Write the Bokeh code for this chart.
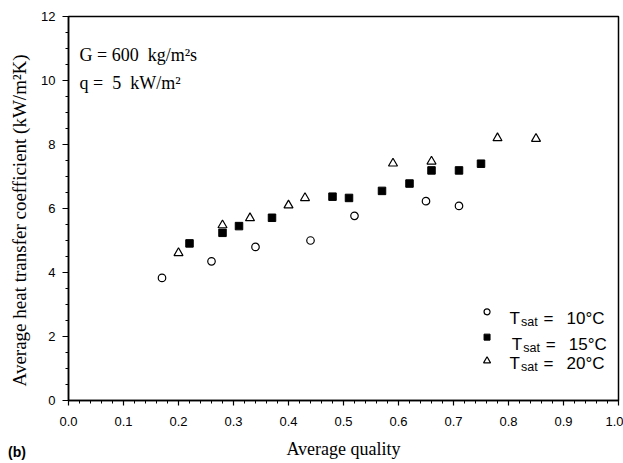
from bokeh.plotting import figure
from bokeh.models import Range1d, FixedTicker, Label
from bokeh.embed import file_html
from bokeh.resources import INLINE

# ---- data ----
x_10 = [0.17, 0.26, 0.34, 0.44, 0.52, 0.65, 0.71]
h_10 = [3.83, 4.35, 4.80, 5.00, 5.77, 6.23, 6.08]

x_15 = [0.22, 0.28, 0.31, 0.37, 0.48, 0.51, 0.57, 0.62, 0.66, 0.71, 0.75]
h_15 = [4.91, 5.24, 5.45, 5.71, 6.37, 6.33, 6.55, 6.78, 7.19, 7.19, 7.40]

x_20 = [0.20, 0.28, 0.33, 0.40, 0.43, 0.59, 0.66, 0.78, 0.85]
h_20 = [4.61, 5.48, 5.70, 6.10, 6.33, 7.41, 7.47, 8.20, 8.18]

x_ticks = [0.0, 0.1, 0.2, 0.3, 0.4, 0.5, 0.6, 0.7, 0.8, 0.9, 1.0]
x_tick_labels = ["0.0", "0.1", "0.2", "0.3", "0.4", "0.5", "0.6", "0.7", "0.8", "0.9", "1.0"]
y_ticks = [0, 2, 4, 6, 8, 10, 12]
y_tick_labels = ["0", "2", "4", "6", "8", "10", "12"]

legend_temps = ["10°C", "15°C", "20°C"]

SERIF = "Liberation Serif"
SANS = "Liberation Sans"
NB = "\u00a0"

p = figure(width=623, height=463, output_backend="svg", toolbar_location=None,
           x_range=Range1d(0, 1), y_range=Range1d(0, 12),
           min_border_left=68, min_border_right=5, min_border_top=15, min_border_bottom=63)
p.background_fill_color = "white"
p.border_fill_color = "white"
p.grid.visible = False
p.outline_line_color = "black"
p.outline_line_width = 1.5
p.outline_line_alpha = 1.0

# axes
x_minor = [round(i * 0.02, 2) for i in range(51)]
y_minor = [i * 0.5 for i in range(25)]
p.xaxis.ticker = FixedTicker(ticks=x_ticks, minor_ticks=x_minor)
p.yaxis.ticker = FixedTicker(ticks=y_ticks, minor_ticks=y_minor)
p.xaxis.major_label_overrides = {t: l for t, l in zip(x_ticks, x_tick_labels)}
p.yaxis.major_label_overrides = {t: l for t, l in zip(y_ticks, y_tick_labels)}
for ax in (p.xaxis[0], p.yaxis[0]):
    ax.axis_line_color = "black"
    ax.axis_line_width = 1.5
    ax.major_tick_line_color = "black"
    ax.minor_tick_line_color = "black"
    ax.major_tick_line_width = 1.2
    ax.minor_tick_line_width = 1
    ax.major_tick_in = 0
    ax.minor_tick_in = 0
    ax.major_label_text_font = SANS
    ax.major_label_text_font_size = "13px"
    ax.major_label_text_color = "black"
    ax.axis_label_text_font = SERIF
    ax.axis_label_text_font_style = "normal"
    ax.axis_label_text_color = "black"
p.xaxis.major_tick_out = 5
p.xaxis.minor_tick_out = 3
p.yaxis.major_tick_out = 6
p.yaxis.minor_tick_out = 3
p.xaxis.major_label_standoff = 11
p.yaxis.major_label_standoff = 7

p.xaxis.axis_label = "Average quality"
p.xaxis.axis_label_text_font_size = "18px"
p.xaxis.axis_label_standoff = 10
p.yaxis.axis_label = "Average heat transfer coefficient (kW/m²K)" + NB * 5
p.yaxis.axis_label_text_font_size = "19px"
p.yaxis.axis_label_standoff = 8

# data markers
p.scatter(x_10, h_10, marker="circle", size=7.5, fill_color="white",
          line_color="black", line_width=1.2)
p.scatter(x_15, h_15, marker="square", size=7.5, fill_color="black",
          line_color="black", line_width=1)
p.scatter(x_20, h_20, marker="triangle", size=9, fill_color="white",
          line_color="black", line_width=1.2)

# panel tag "(b)" (in a side panel so it is not clipped to the frame)
p.add_layout(Label(x=-0.11, y=-1.6, text="(b)", text_align="left", text_baseline="middle",
                   text_font=SANS, text_font_style="bold", text_font_size="14px",
                   text_color="black"), "above")

# conditions
p.add_layout(Label(x=0.02, y=10.81, text="G = 600" + NB * 2 + "kg/m²s",
                   text_baseline="alphabetic",
                   text_font=SERIF, text_font_size="18px", text_color="black"))
p.add_layout(Label(x=0.02, y=9.91, text="q =" + NB * 2 + "5" + NB * 2 + "kW/m²",
                   text_baseline="alphabetic",
                   text_font=SERIF, text_font_size="18px", text_color="black"))

# legend (manual, for subscript)
leg_marker_x = 0.761
leg_marker_y = [2.77, 1.98, 1.24]
leg_text_x = [0.802, 0.806, 0.802]
leg_text_y = [2.556, 1.758, 1.153]
p.scatter([leg_marker_x], [leg_marker_y[0]], marker="circle", size=6, fill_color="white",
          line_color="black", line_width=1.2)
p.scatter([leg_marker_x], [leg_marker_y[1]], marker="square", size=6, fill_color="black",
          line_color="black", line_width=1)
p.scatter([leg_marker_x], [leg_marker_y[2]], marker="triangle", size=7, fill_color="white",
          line_color="black", line_width=1.2)
for tx, ty, temp in zip(leg_text_x, leg_text_y, legend_temps):
    p.add_layout(Label(x=tx, y=ty, text="T", text_baseline="alphabetic",
                       text_font=SANS, text_font_size="17px", text_color="black"))
    p.add_layout(Label(x=tx, y=ty, x_offset=11.5, y_offset=-3.5, text="sat",
                       text_baseline="alphabetic",
                       text_font=SANS, text_font_size="12.5px", text_color="black"))
    p.add_layout(Label(x=tx, y=ty, x_offset=34, text="=", text_baseline="alphabetic",
                       text_font=SANS, text_font_size="17px", text_color="black"))
    p.add_layout(Label(x=tx, y=ty, x_offset=57, text=temp, text_baseline="alphabetic",
                       text_font=SANS, text_font_size="17px", text_color="black"))

open("out.html", "w").write(file_html(p, INLINE))
